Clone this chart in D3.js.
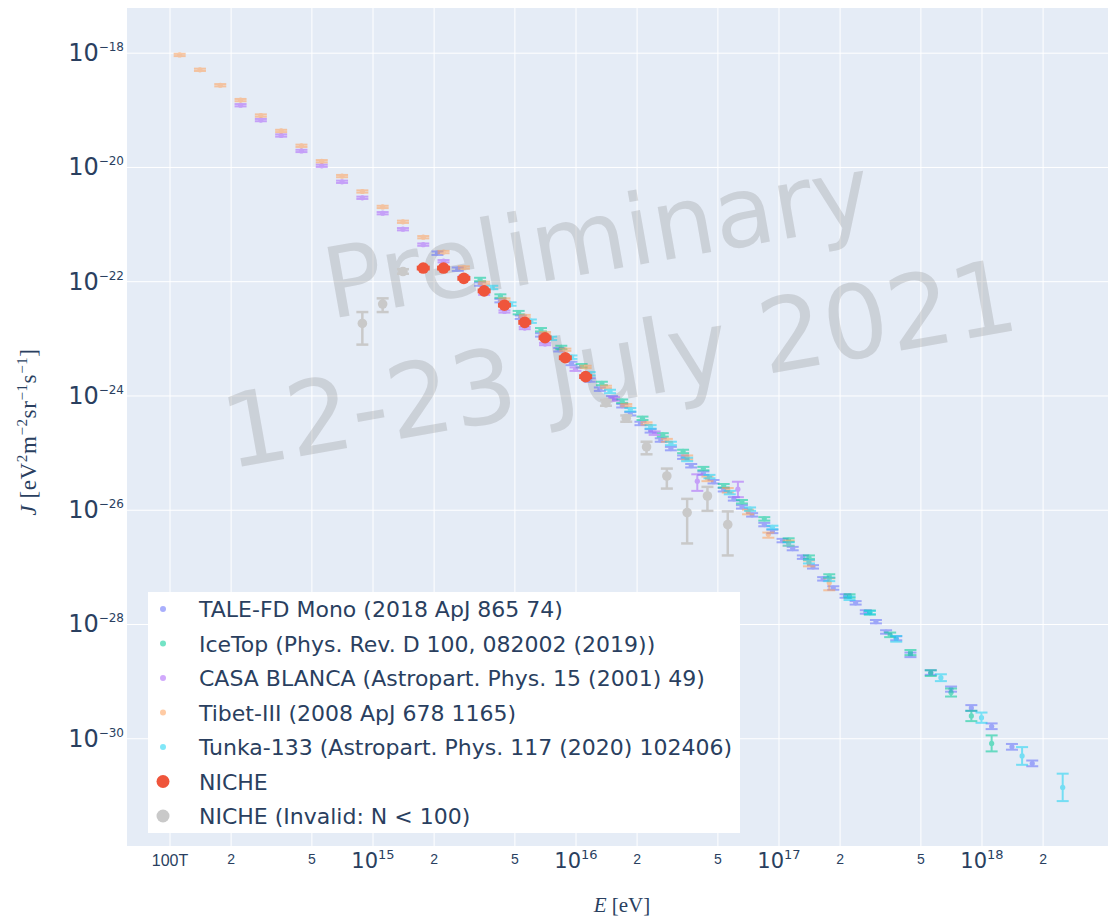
<!DOCTYPE html>
<html>
<head>
<meta charset="utf-8">
<script src="https://cdn.jsdelivr.net/npm/d3@7"></script>
<style>
  body { margin: 0; background: #fff; }
  text { font-family: "DejaVu Sans", Verdana, sans-serif; }
</style>
</head>
<body>
<svg id="chart" width="1109" height="919"></svg>
<script>
// ---------------- data: log10(E / eV) and log10(J) ----------------
const taleLogE = [15.32,15.42,15.53,15.63,15.73,15.83,15.92,15.98,16.07,16.12,16.18,16.23,16.27,16.32,16.37,16.42,16.47,16.53,16.57,16.63,16.68,16.73,16.78,16.82,16.87,16.93,16.97,17.02,17.07,17.12,17.17,17.22,17.27,17.33,17.38,17.43,17.48,17.53,17.58,17.65,17.75,17.85,17.95,18.05,18.15,18.25];
const taleLogJ = [-21.51,-21.79,-22.05,-22.34,-22.63,-22.94,-23.20,-23.44,-23.73,-23.89,-24.04,-24.18,-24.32,-24.49,-24.62,-24.78,-24.93,-25.08,-25.23,-25.36,-25.51,-25.65,-25.81,-25.95,-26.09,-26.26,-26.38,-26.54,-26.68,-26.83,-27.00,-27.21,-27.37,-27.51,-27.63,-27.79,-27.96,-28.14,-28.25,-28.54,-28.85,-29.14,-29.47,-29.79,-30.15,-30.44];
const taleErr  = [0.03,0.03,0.03,0.03,0.03,0.03,0.03,0.03,0.03,0.03,0.03,0.03,0.03,0.03,0.03,0.03,0.03,0.03,0.03,0.03,0.03,0.03,0.03,0.03,0.03,0.03,0.03,0.03,0.03,0.03,0.03,0.03,0.03,0.03,0.03,0.03,0.03,0.03,0.035,0.04,0.04,0.045,0.05,0.05,0.05,0.05];

const icetopLogE = [15.53,15.63,15.72,15.83,15.93,16.03,16.13,16.23,16.33,16.43,16.53,16.63,16.73,16.82,16.93,17.05,17.15,17.25,17.35,17.45,17.55,17.65,17.75,17.85,17.95,18.05];
const icetopLogJ = [-21.97,-22.26,-22.55,-22.85,-23.16,-23.48,-23.79,-24.10,-24.40,-24.69,-24.98,-25.28,-25.58,-25.86,-26.16,-26.53,-26.83,-27.16,-27.51,-27.80,-28.19,-28.50,-28.86,-29.20,-29.61,-30.09];
const icetopErr  = [0.03,0.03,0.03,0.03,0.03,0.03,0.03,0.03,0.03,0.03,0.03,0.03,0.03,0.03,0.03,0.03,0.03,0.03,0.03,0.035,0.04,0.045,0.05,0.07,0.09,0.14];

const casaLogE = [14.35,14.45,14.55,14.65,14.75,14.85,14.95,15.05,15.15,15.25,15.35,15.45,15.55,15.65,15.75,15.85,16.00,16.19,16.39,16.60,16.80];
const casaLogJ = [-18.92,-19.18,-19.45,-19.72,-19.98,-20.26,-20.54,-20.81,-21.09,-21.36,-21.65,-21.93,-22.22,-22.53,-22.82,-23.10,-23.54,-24.06,-24.66,-25.50,-25.64];
const casaErrUp = [0.02,0.02,0.02,0.02,0.02,0.02,0.02,0.02,0.02,0.02,0.02,0.02,0.02,0.02,0.02,0.02,0.03,0.03,0.03,0.12,0.13];
const casaErrDn = [0.02,0.02,0.02,0.02,0.02,0.02,0.02,0.02,0.02,0.02,0.02,0.02,0.02,0.02,0.02,0.02,0.03,0.03,0.03,0.17,0.14];

const tibetLogE = [14.05,14.15,14.25,14.35,14.45,14.55,14.65,14.75,14.85,14.95,15.05,15.15,15.25,15.35,15.45,15.55,15.65,15.75,15.85,15.95,16.05,16.15,16.25,16.35,16.45,16.55,16.65,16.75,16.85,16.95,17.05,17.15,17.25];
const tibetLogJ = [-18.04,-18.30,-18.57,-18.83,-19.10,-19.37,-19.63,-19.90,-20.16,-20.43,-20.70,-20.96,-21.23,-21.49,-21.76,-22.03,-22.32,-22.61,-22.91,-23.20,-23.50,-23.85,-24.17,-24.49,-24.78,-25.08,-25.45,-25.65,-26.03,-26.43,-26.58,-26.93,-27.28];
const tibetErrUp = [0.02,0.02,0.02,0.02,0.02,0.02,0.02,0.02,0.02,0.02,0.02,0.02,0.02,0.02,0.02,0.02,0.02,0.02,0.02,0.02,0.02,0.02,0.02,0.02,0.02,0.03,0.03,0.03,0.03,0.03,0.04,0.04,0.08];
const tibetErrDn = [0.02,0.02,0.02,0.02,0.02,0.02,0.02,0.02,0.02,0.02,0.02,0.02,0.02,0.02,0.02,0.02,0.02,0.02,0.02,0.02,0.02,0.02,0.02,0.02,0.03,0.04,0.05,0.05,0.05,0.06,0.05,0.06,0.13];

const tunkaLogE = [15.59,15.68,15.78,15.88,15.98,16.07,16.17,16.27,16.37,16.47,16.55,16.66,16.76,16.86,16.97,17.05,17.15,17.25,17.35,17.45,17.58,17.80,18.00,18.20,18.40];
const tunkaLogJ = [-22.11,-22.40,-22.70,-23.00,-23.33,-23.62,-23.93,-24.25,-24.55,-24.84,-25.12,-25.42,-25.70,-25.99,-26.31,-26.60,-26.91,-27.22,-27.55,-27.80,-28.26,-28.94,-29.64,-30.31,-30.86];
const tunkaErr  = [0.03,0.03,0.03,0.03,0.03,0.03,0.03,0.03,0.03,0.03,0.03,0.03,0.03,0.03,0.03,0.03,0.03,0.03,0.03,0.03,0.05,0.06,0.09,0.155,0.24];

const nicheLogE = [15.25,15.35,15.45,15.55,15.65,15.75,15.85,15.95,16.05];
const nicheLogJ = [-21.77,-21.77,-21.95,-22.17,-22.42,-22.72,-22.99,-23.34,-23.67];
const nicheErr  = [0.02,0.02,0.02,0.02,0.02,0.02,0.02,0.02,0.02];

const invalidLogE  = [14.95,15.05,15.15,16.15,16.25,16.35,16.45,16.55,16.65,16.75];
const invalidLogJ  = [-22.74,-22.40,-21.83,-24.13,-24.40,-24.90,-25.41,-26.05,-25.76,-26.26];
const invalidErrUp = [0.20,0.10,0.04,0.05,0.05,0.09,0.13,0.24,0.16,0.23];
const invalidErrDn = [0.37,0.14,0.04,0.05,0.06,0.13,0.22,0.54,0.26,0.54];

const xTickValues = [1e14,2e14,5e14,1e15,2e15,5e15,1e16,2e16,5e16,1e17,2e17,5e17,1e18,2e18];
const xTickLabels = ["100T","2","5","10^15","2","5","10^16","2","5","10^17","2","5","10^18","2"];
const yTickValues = [1e-18,1e-20,1e-22,1e-24,1e-26,1e-28,1e-30];
const yTickLabels = ["10^\u221218","10^\u221220","10^\u221222","10^\u221224","10^\u221226","10^\u221228","10^\u221230"];

const seriesNames = [
  "TALE-FD Mono (2018 ApJ 865 74)",
  "IceTop (Phys. Rev. D 100, 082002 (2019))",
  "CASA BLANCA (Astropart. Phys. 15 (2001) 49)",
  "Tibet-III (2008 ApJ 678 1165)",
  "Tunka-133 (Astropart. Phys. 117 (2020) 102406)",
  "NICHE",
  "NICHE (Invalid: N < 100)"
];
const seriesColors = ["#636efa","#00cc96","#ab63fa","#ffa15a","#19d3f3","#ef553b","#c9c9c9"];

// ---------------- layout ----------------
const svg = d3.select("#chart");
const plotL = 127, plotR = 1108, plotT = 8, plotB = 846;
const ink = "#2a3f5f";

const x = d3.scaleLog().domain([10 ** 13.7906, 10 ** 18.6232]).range([plotL, plotR]);
const y = d3.scaleLog().domain([10 ** -31.886, 10 ** -17.218]).range([plotB, plotT]);

svg.append("rect").attr("x", plotL).attr("y", plotT)
  .attr("width", plotR - plotL).attr("height", plotB - plotT).attr("fill", "#e5ecf6");

// grid lines
const gx = svg.append("g").attr("transform", `translate(0,${plotB})`)
  .call(d3.axisBottom(x).tickValues(xTickValues).tickSize(-(plotB - plotT)).tickFormat(""));
gx.select(".domain").remove();
gx.selectAll(".tick line").attr("stroke", "#fff").attr("stroke-width", 1);

const gy = svg.append("g").attr("transform", `translate(${plotL},0)`)
  .call(d3.axisLeft(y).tickValues(yTickValues).tickSize(-(plotR - plotL)).tickFormat(""));
gy.select(".domain").remove();
gy.selectAll(".tick line").attr("stroke", "#fff").attr("stroke-width", 1);

// watermark
const wm = svg.append("g").attr("transform", "translate(614,334) rotate(-10)")
  .attr("fill", "rgba(128,128,128,0.25)").attr("text-anchor", "middle");
wm.append("text").attr("x", 0).attr("y", -64).style("font-size", "98px").text("Preliminary");
wm.append("text").attr("x", 0).attr("y", 66).style("font-size", "102px").text("12-23 July 2021");

// ---------------- data marks ----------------
function drawSeries(logE, logJ, up, dn, color, opt) {
  const g = svg.append("g").attr("opacity", opt.opacity);
  logE.forEach((le, i) => {
    const cx = x(10 ** le);
    const yTop = y(10 ** (logJ[i] + up[i]));
    const yBot = y(10 ** (logJ[i] - dn[i]));
    const pg = g.append("g").attr("stroke", color).attr("stroke-width", opt.sw);
    pg.append("line").attr("x1", cx).attr("x2", cx).attr("y1", yTop).attr("y2", yBot);
    pg.append("line").attr("x1", cx - opt.cap).attr("x2", cx + opt.cap).attr("y1", yTop).attr("y2", yTop);
    pg.append("line").attr("x1", cx - opt.cap).attr("x2", cx + opt.cap).attr("y1", yBot).attr("y2", yBot);
    g.append("circle").attr("cx", cx).attr("cy", y(10 ** logJ[i])).attr("r", opt.r).attr("fill", color);
  });
}
const small = { opacity: 0.55, sw: 2, cap: 6, r: 2.6 };
drawSeries(taleLogE, taleLogJ, taleErr, taleErr, seriesColors[0], small);
drawSeries(icetopLogE, icetopLogJ, icetopErr, icetopErr, seriesColors[1], small);
drawSeries(casaLogE, casaLogJ, casaErrUp, casaErrDn, seriesColors[2], small);
drawSeries(tibetLogE, tibetLogJ, tibetErrUp, tibetErrDn, seriesColors[3], small);
drawSeries(tunkaLogE, tunkaLogJ, tunkaErr, tunkaErr, seriesColors[4], small);
drawSeries(nicheLogE, nicheLogJ, nicheErr, nicheErr, seriesColors[5], { opacity: 1, sw: 2.5, cap: 6.5, r: 5.8 });
drawSeries(invalidLogE, invalidLogJ, invalidErrUp, invalidErrDn, seriesColors[6], { opacity: 1, sw: 2.5, cap: 6, r: 4.8 });

// ---------------- axes labels ----------------
function writeLabel(t, lbl, baseSize, supSize, supShift) {
  t.text(null);
  const parts = lbl.split("^");
  t.append("tspan").style("font-size", baseSize + "px").text(parts[0]);
  if (parts.length > 1) {
    t.append("tspan").style("font-size", supSize + "px").attr("dy", -supShift).text(parts[1]);
  }
}

const ax = svg.append("g").attr("transform", `translate(0,${plotB})`)
  .call(d3.axisBottom(x).tickValues(xTickValues).tickSize(0).tickFormat((d, i) => xTickLabels[i]));
ax.select(".domain").remove();
ax.selectAll(".tick text").each(function (d, i) {
  const t = d3.select(this).attr("fill", ink).attr("dy", null);
  const lbl = xTickLabels[i];
  if (lbl.includes("^")) {
    t.attr("y", 22);
    writeLabel(t, lbl, 21, 13, 9);
  } else if (lbl === "100T") {
    t.attr("y", 20).style("font-family", '"Liberation Sans Narrow", "Liberation Sans", sans-serif');
    writeLabel(t, lbl, 16, 0, 0);
  } else {
    t.attr("y", 18).style("font-family", '"Liberation Sans Narrow", "Liberation Sans", sans-serif');
    writeLabel(t, lbl, 14, 0, 0);
  }
});

const ay = svg.append("g").attr("transform", `translate(${plotL},0)`)
  .call(d3.axisLeft(y).tickValues(yTickValues).tickSize(0).tickFormat((d, i) => yTickLabels[i]));
ay.select(".domain").remove();
ay.selectAll(".tick text").each(function (d, i) {
  const t = d3.select(this).attr("fill", ink).attr("dy", null).attr("x", -3).attr("y", 8)
    .attr("text-anchor", "end");
  writeLabel(t, yTickLabels[i], 24, 12, 10);
});

// axis titles
const serif = '"Liberation Serif", "DejaVu Serif", serif';
const xt = svg.append("text").attr("x", 622).attr("y", 912).attr("text-anchor", "middle")
  .attr("fill", ink).style("font-family", serif).style("font-size", "21px");
xt.append("tspan").style("font-style", "italic").text("E");
xt.append("tspan").text(" [eV]");

const yt = svg.append("text").attr("transform", "translate(36,432) rotate(-90)")
  .attr("text-anchor", "middle").attr("fill", ink)
  .style("font-family", serif).style("font-size", "23px").style("letter-spacing", "0.6px");
yt.append("tspan").style("font-style", "italic").text("J");
yt.append("tspan").text(" [eV");
yt.append("tspan").attr("dy", -9).style("font-size", "15px").text("2");
yt.append("tspan").attr("dy", 9).text("m");
yt.append("tspan").attr("dy", -9).style("font-size", "15px").text("\u22122");
yt.append("tspan").attr("dy", 9).text("sr");
yt.append("tspan").attr("dy", -9).style("font-size", "15px").text("\u22121");
yt.append("tspan").attr("dy", 9).text("s");
yt.append("tspan").attr("dy", -9).style("font-size", "15px").text("\u22121");
yt.append("tspan").attr("dy", 9).text("]");

// ---------------- legend ----------------
const lg = svg.append("g");
lg.append("rect").attr("x", 148).attr("y", 592).attr("width", 592).attr("height", 241).attr("fill", "#fff");
seriesNames.forEach((name, i) => {
  const cy = 609 + i * 34.5;
  const big = i >= 5;
  lg.append("circle").attr("cx", 163).attr("cy", cy).attr("r", big ? 6.5 : 3)
    .attr("fill", seriesColors[i]).attr("opacity", big ? 1 : 0.55);
  lg.append("text").attr("x", 199).attr("y", cy + 8).attr("fill", ink)
    .style("font-size", "22px").text(name);
});
</script>
</body>
</html>
